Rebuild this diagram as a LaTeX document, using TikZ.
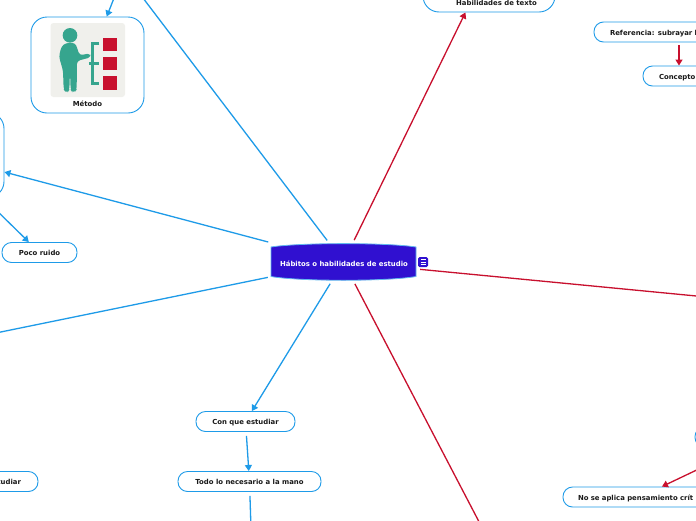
\documentclass[tikz,border=0pt]{standalone}
\usepackage{fontspec}
\setmainfont{DejaVu Sans}
\usetikzlibrary{arrows.meta}
\definecolor{sky}{HTML}{1E9BE8}
\definecolor{wine}{HTML}{C8102E}
\definecolor{indigoc}{HTML}{3010D0}
\definecolor{tealc}{HTML}{36A58E}
\definecolor{iconbg}{HTML}{F0F0EC}
\tikzset{
  pill/.style={draw=sky,line width=0.9pt,rounded corners=9.5pt,fill=white,minimum height=20pt,inner xsep=0pt,inner ysep=0pt,font=\fontsize{6.9}{7}\selectfont\bfseries,text=black!90,text height=6pt,text depth=0pt},
  bigbox/.style={draw=sky,line width=0.9pt,rounded corners=16pt,fill=white,inner sep=0pt},
  txt/.style={font=\fontsize{6.9}{7}\selectfont\bfseries,text=black!90,inner sep=0pt,text height=6pt,text depth=0pt},
  link/.style={line width=1.3pt,shorten <=3pt},
  bluelink/.style={link,draw=sky},
  redlink/.style={link,draw=wine},
  tip/.style={-{Triangle[length=6pt,width=7pt]}},
}
\begin{document}
\begin{tikzpicture}[x=1pt,y=-1pt]
\useasboundingbox (0,0) rectangle (696,520);
\clip (0,0) rectangle (696,520);
\fill[white] (0,0) rectangle (696,520);
% free ends off the page
\coordinate (upA) at (124,-27);
\coordinate (leftC) at (-100,352.6);
\coordinate (rightC) at (800,306);
\coordinate (downC) at (500,562);
\coordinate (downT) at (252,560);
% nodes
\node[txt,draw=none,minimum width=145pt,minimum height=38pt] (c) at (343.5,262) {};
\node[bigbox,minimum width=113pt,minimum height=96pt] (m) at (87.5,65) {};
\node[bigbox,minimum width=128pt,minimum height=85pt] (lb) at (-60,155) {};
\node[bigbox,minimum width=132pt,minimum height=96pt] (ht) at (489,-36) {};
\node[pill,minimum width=75pt] (pr) at (39.5,252.5) {Poco ruido};
\node[pill,minimum width=99pt] (cq) at (245.5,421.5) {Con que estudiar};
\node[pill,minimum width=143pt] (tn) at (249.5,481.5) {Todo lo necesario a la mano};
\node[pill,minimum width=120pt,text width=86pt,align=right,inner xsep=17pt] (es) at (-22,481.5) {estudiar};
\node[pill,minimum width=170pt,text width=138pt,align=left,inner xsep=16pt] (rf) at (679,32) {Referencia: subrayar l};
\node[pill,minimum width=72pt,text width=40pt,align=left,inner xsep=16pt] (co) at (679,76) {Concepto};
\node[pill,minimum width=154pt,text width=124pt,align=left,inner xsep=15pt] (np) at (640,497) {No se aplica pensamiento crít};
\node[pill,minimum width=142pt] (fr) at (766,437) {};
% connectors
\draw[bluelink] (c) -- (upA);
\draw[bluelink,tip,shorten <=0pt] (upA) -- (m);
\draw[bluelink,tip] (c) -- (lb);
\draw[bluelink,tip,shorten <=6pt] (lb) -- (pr);
\draw[bluelink] (c) -- (leftC);
\draw[bluelink,tip] (c) -- (cq);
\draw[bluelink,tip,shorten <=4pt] (cq) -- (tn);
\draw[bluelink,shorten <=4pt] (tn) -- (downT);
\draw[redlink,tip] (c) -- (ht);
\draw[redlink,shorten <=4pt] (c) -- (rightC);
\draw[redlink] (c) -- (downC);
\draw[redlink,tip,shorten <=3pt] (rf) -- (co);
\draw[redlink,tip] (fr) -- (np);
% central shape
\filldraw[fill=indigoc,draw=sky!70!white,line width=0.8pt]
  (271,247) .. controls (300,242.5) and (387,242.5) .. (416,247)
  -- (416,276.5) .. controls (387,281.5) and (300,281.5) .. (271,276.5) -- cycle;
\node[txt,text=white] (ct) at (344,263.5) {Hábitos o habilidades de estudio};
% notes icon
\fill[indigoc,rounded corners=1.5pt] (418,257) rectangle (428,267);
\draw[white,line width=0.6pt] (420.5,259.7) -- (425.5,259.7) (420.5,262) -- (425.5,262) (420.5,264.3) -- (425.5,264.3);
% method picture
\fill[iconbg,rounded corners=3pt] (50.5,23) rectangle (125,97);
\begin{scope}[x=1/3*1pt,y=-1/3*1pt]
  \fill[tealc] (210,106) circle (22);
  \fill[tealc,rounded corners=3] (197,129) -- (226,129) -- (239,166) -- (270,160) -- (272,172) -- (231,183)
    -- (230,268) -- (226,275) -- (216,275) -- (212,270) -- (210,215) -- (208,270) -- (204,275) -- (196,275) -- (191,268)
    -- (189,212) -- (177,170) -- (184,140) -- cycle;
  \draw[tealc,line width=2.6pt] (298,130) -- (278,130) -- (278,250) -- (298,250) (267,190) -- (298,190);
  \fill[wine] (310,113) rectangle (350,152);
  \fill[wine] (310,171) rectangle (350,210);
  \fill[wine] (310,229) rectangle (350,269);
\end{scope}
\node[txt] (mt) at (87.5,103.5) {Método};
\node[txt] (htt) at (496.5,2.5) {Habilidades de texto};
\end{tikzpicture}
\end{document}
